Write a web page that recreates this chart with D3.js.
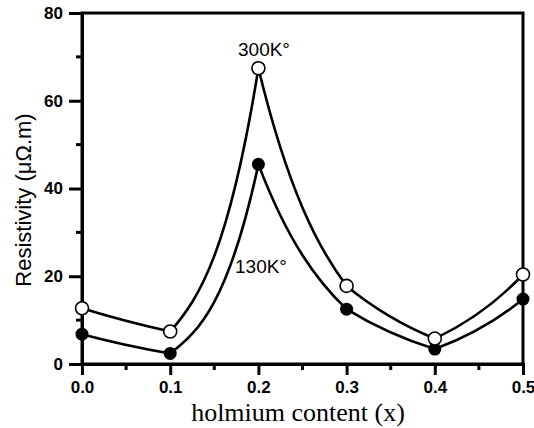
<!DOCTYPE html>
<html>
<head>
<meta charset="utf-8">
<script src="https://cdn.jsdelivr.net/npm/d3@7"></script>
<style>
  body { margin: 0; background: #fff; overflow: hidden; }
  svg { display: block; }
</style>
</head>
<body>
<div id="chart"></div>
<script>
// data
let xValues = [0.0, 0.1, 0.2, 0.3, 0.4, 0.5];
let rho300 = [12.7, 7.4, 67.4, 17.8, 5.8, 20.4];
let rho130 = [6.8, 2.4, 45.5, 12.5, 3.4, 14.8];
let xTicks = [0.0, 0.1, 0.2, 0.3, 0.4, 0.5];
let xMinorTicks = [0.05, 0.15, 0.25, 0.35, 0.45];
let yTicks = [0, 20, 40, 60, 80];
let yMinorTicks = [10, 30, 50, 70];

let width = 534, height = 428;
let margin = { left: 82, right: 11, top: 13, bottom: 64 };

let svg = d3.select("#chart").append("svg")
  .attr("width", width)
  .attr("height", height);

let x = d3.scaleLinear().domain([0, 0.5]).range([margin.left, width - margin.right]);
let y = d3.scaleLinear().domain([0, 80]).range([height - margin.bottom, margin.top]);

// curve bending like an exponential of (value + offset) between points,
// gives the sharp peak and the concave segments of the original
function curveExpo(y0) {
  return function(context) {
    let pts = [];
    return {
      areaStart() {}, areaEnd() {},
      lineStart() { pts = []; },
      point(px, py) { pts.push([px, py]); },
      lineEnd() {
        if (!pts.length) return;
        context.moveTo(pts[0][0], pts[0][1]);
        for (let i = 0; i < pts.length - 1; i++) {
          let a = pts[i], b = pts[i + 1];
          let va = y0 - a[1], vb = y0 - b[1];
          let k = Math.log(vb / va);
          let dx = b[0] - a[0];
          context.bezierCurveTo(a[0] + dx / 3, a[1] - va * k / 3, b[0] - dx / 3, b[1] + vb * k / 3, b[0], b[1]);
        }
      }
    };
  };
}

let line = d3.line()
  .x((d, i) => x(xValues[i]))
  .y(d => y(d))
  .curve(curveExpo(y(-6)));

[rho300, rho130].forEach(s => {
  svg.append("path")
    .attr("d", line(s))
    .attr("fill", "none")
    .attr("stroke", "#000")
    .attr("stroke-width", 2.6);
});

// frame
svg.append("rect")
  .attr("x", x(0)).attr("y", y(80))
  .attr("width", x(0.5) - x(0)).attr("height", y(0) - y(80))
  .attr("fill", "none").attr("stroke", "#000").attr("stroke-width", 3);

// axes
let xAxis = svg.append("g")
  .attr("transform", "translate(0," + y(0) + ")")
  .call(d3.axisBottom(x).tickValues(xTicks).tickFormat(d3.format(".1f")).tickSize(11).tickPadding(6));
svg.append("g").selectAll("line")
  .data(xMinorTicks)
  .join("line")
  .attr("x1", d => x(d)).attr("x2", d => x(d))
  .attr("y1", y(0)).attr("y2", y(0) + 6)
  .attr("stroke", "#000").attr("stroke-width", 3);

let yAxis = svg.append("g")
  .attr("transform", "translate(" + x(0) + ",0)")
  .call(d3.axisLeft(y).tickValues(yTicks).tickSize(13).tickPadding(6));
svg.append("g").selectAll("line")
  .data(yMinorTicks)
  .join("line")
  .attr("x1", x(0)).attr("x2", x(0) - 6)
  .attr("y1", d => y(d)).attr("y2", d => y(d))
  .attr("stroke", "#000").attr("stroke-width", 3);

[xAxis, yAxis].forEach(g => {
  g.select(".domain").attr("stroke-width", 3);
  g.selectAll(".tick line").attr("stroke-width", 3);
  g.selectAll(".tick text")
    .attr("font-family", "Liberation Sans, Arial, sans-serif")
    .attr("font-weight", "bold")
    .attr("font-size", 17)
    .attr("fill", "#000");
});

// markers
svg.append("g").selectAll("circle")
  .data(rho130)
  .join("circle")
  .attr("cx", (d, i) => x(xValues[i]))
  .attr("cy", d => y(d))
  .attr("r", 6.5)
  .attr("fill", "#000");

svg.append("g").selectAll("circle")
  .data(rho300)
  .join("circle")
  .attr("cx", (d, i) => x(xValues[i]))
  .attr("cy", d => y(d))
  .attr("r", 6.5)
  .attr("fill", "#fff")
  .attr("stroke", "#000")
  .attr("stroke-width", 1.6);

// labels
svg.append("text")
  .attr("x", 298)
  .attr("y", 421)
  .attr("text-anchor", "middle")
  .attr("font-family", "Liberation Serif, Times New Roman, serif")
  .attr("font-size", 26)
  .text("holmium content (x)");

svg.append("text")
  .attr("transform", "translate(31,200) rotate(-90)")
  .attr("text-anchor", "middle")
  .attr("font-family", "Liberation Sans, Arial, sans-serif")
  .attr("font-size", 22)
  .text("Resistivity (μΩ.m)");

svg.append("text")
  .attr("x", 238).attr("y", 56)
  .attr("font-family", "Liberation Sans, Arial, sans-serif")
  .attr("font-size", 19)
  .text("300K°");

svg.append("text")
  .attr("x", 235).attr("y", 273)
  .attr("font-family", "Liberation Sans, Arial, sans-serif")
  .attr("font-size", 19)
  .text("130K°");
</script>
</body>
</html>
